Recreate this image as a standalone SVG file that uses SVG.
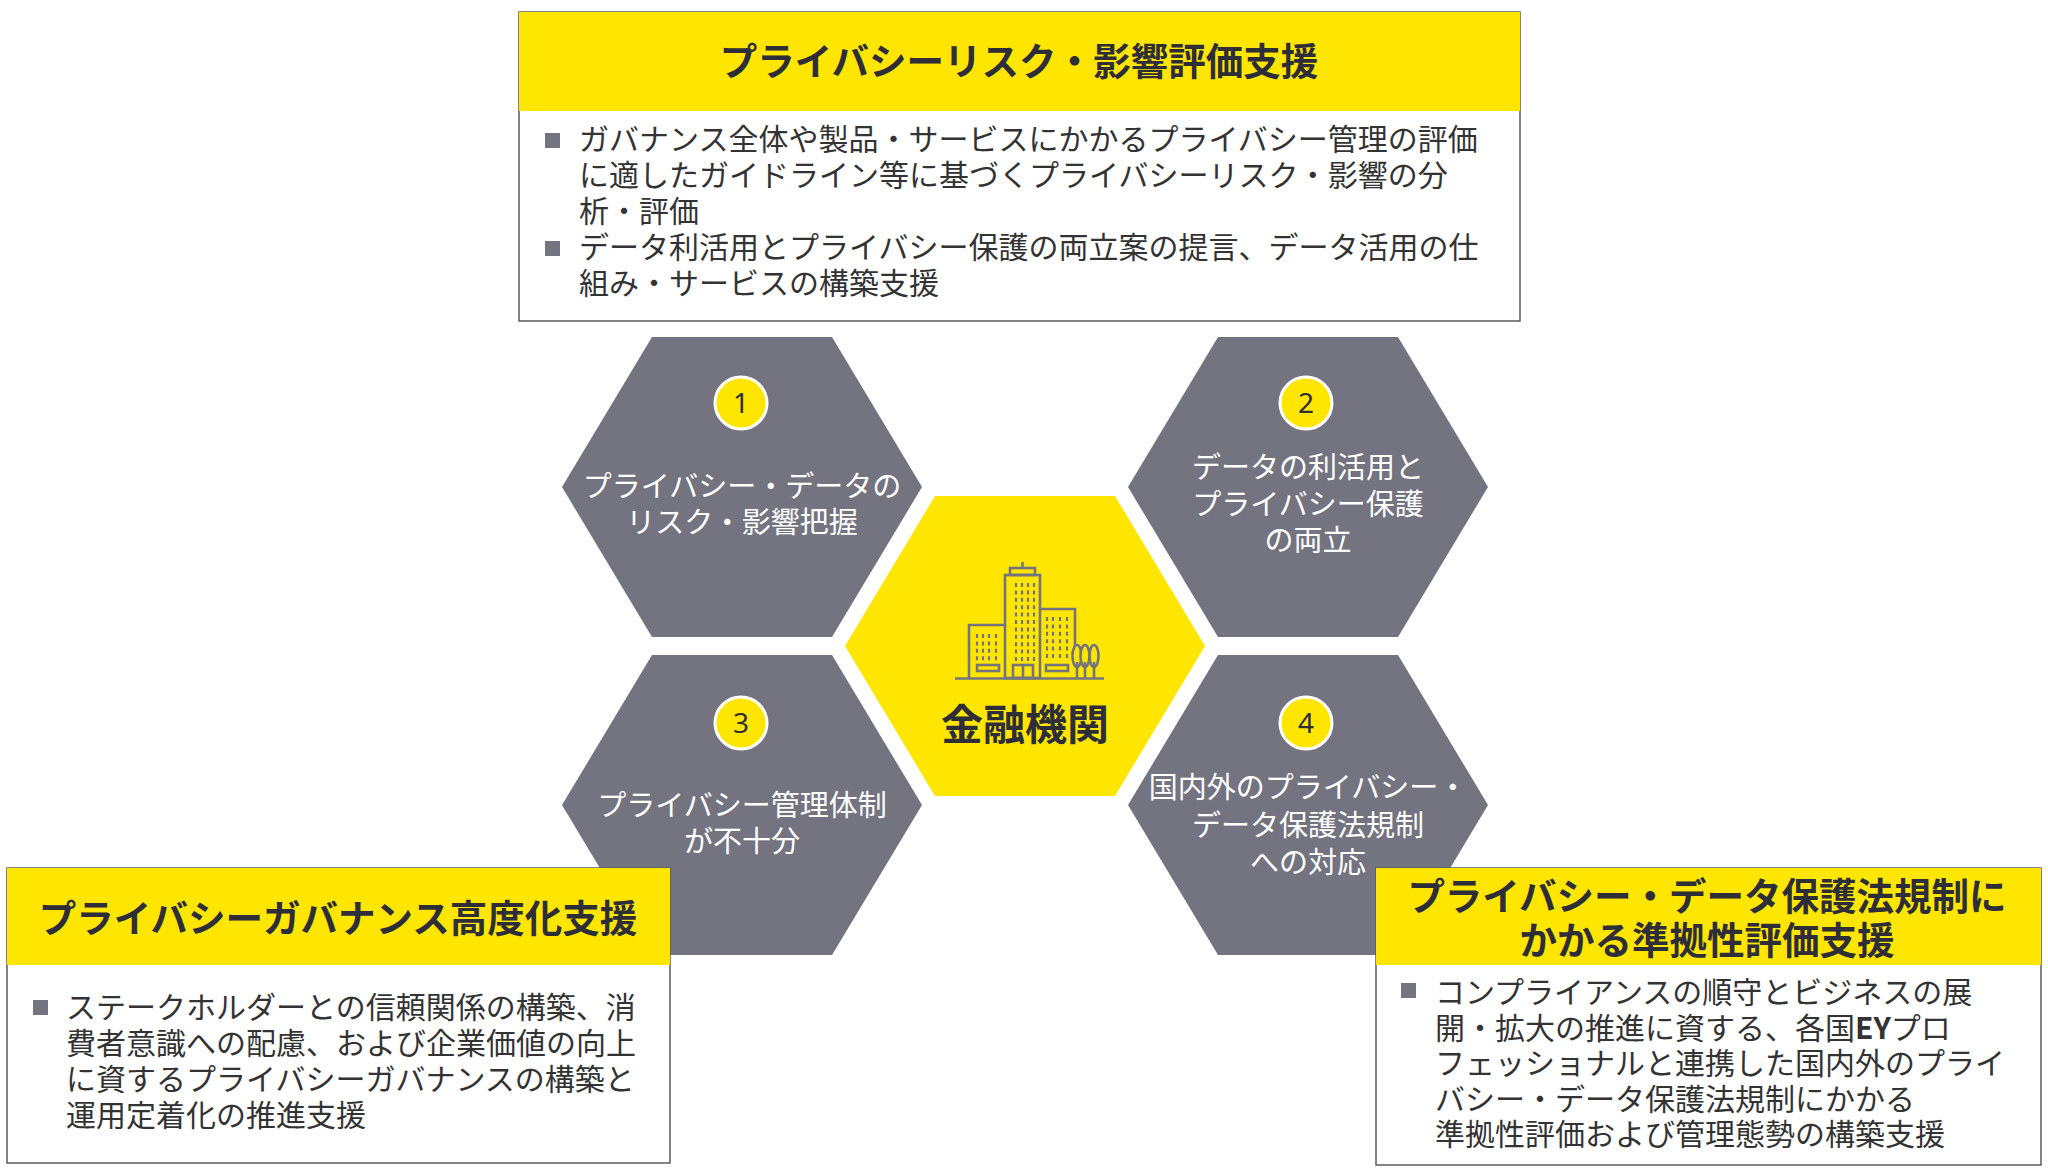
<svg xmlns="http://www.w3.org/2000/svg" xmlns:xlink="http://www.w3.org/1999/xlink" width="2048" height="1170" viewBox="0 0 2048 1170">
<defs>
<style>
.jp{font-family:"Noto Sans CJK JP","Noto Sans CJK SC",sans-serif}
.hdr{font-family:"Noto Sans CJK JP",sans-serif;font-weight:700;font-size:37.5px;fill:#2e2e38;text-anchor:middle}
.body{font-family:"Noto Sans CJK JP",sans-serif;font-size:30px;fill:#333333}
.hext{font-family:"Noto Sans CJK JP",sans-serif;font-size:29px;fill:#ffffff;text-anchor:middle}
.num{font-family:"Noto Sans","Noto Sans CJK JP",sans-serif;font-size:28px;fill:#2e2e38;text-anchor:middle}
.ybar{fill:#ffe600}
.frame{fill:#ffffff;stroke:#5a5a62;stroke-width:1.5}
.bul{fill:#747480}
.hexg{fill:#747480}
.badge{fill:#ffe600;stroke:#ffffff;stroke-width:3}
.ic{fill:none;stroke:#747480;stroke-width:2.6}
.win{fill:none;stroke:#747480;stroke-width:2.2;stroke-dasharray:4 3.4}
</style>
<polygon id="hex" points="-180,0 -90,-150 90,-150 180,0 90,150 -90,150"/>
</defs>
<rect width="2048" height="1170" fill="#ffffff"/>

<g id="hex1">
<use xlink:href="#hex" href="#hex" class="hexg" transform="translate(742,487)"/>
<circle class="badge" cx="741" cy="403" r="26"/>
<text class="num" x="741" y="413">1</text>
<text class="hext" x="742" y="497">プライバシー・データの</text>
<text class="hext" x="742" y="533">リスク・影響把握</text>
</g>

<g id="hex2">
<use xlink:href="#hex" href="#hex" class="hexg" transform="translate(1308,487)"/>
<circle class="badge" cx="1306" cy="403" r="26"/>
<text class="num" x="1306" y="413">2</text>
<text class="hext" x="1308" y="478">データの利活用と</text>
<text class="hext" x="1308" y="515">プライバシー保護</text>
<text class="hext" x="1308" y="551">の両立</text>
</g>

<g id="hex3">
<use xlink:href="#hex" href="#hex" class="hexg" transform="translate(742,805)"/>
<circle class="badge" cx="741" cy="723" r="26"/>
<text class="num" x="741" y="733">3</text>
<text class="hext" x="742" y="816">プライバシー管理体制</text>
<text class="hext" x="742" y="852">が不十分</text>
</g>

<g id="hex4">
<use xlink:href="#hex" href="#hex" class="hexg" transform="translate(1308,805)"/>
<circle class="badge" cx="1306" cy="723" r="26"/>
<text class="num" x="1306" y="733">4</text>
<text class="hext" x="1308" y="798">国内外のプライバシー・</text>
<text class="hext" x="1308" y="836">データ保護法規制</text>
<text class="hext" x="1308" y="873">への対応</text>
</g>

<g id="center">
<use xlink:href="#hex" href="#hex" class="ybar" transform="translate(1025,646)"/>
<g id="building-icon">
<line class="ic" x1="1022.5" y1="562" x2="1022.5" y2="568"/>
<rect class="ic" x="1010" y="568" width="25" height="7"/>
<rect class="ic" x="1005" y="575" width="35" height="103"/>
<polyline class="ic" points="1005,625 969,625 969,678"/>
<polyline class="ic" points="1040,609 1075,609 1075,650"/>
<line class="ic" x1="955" y1="678.5" x2="1104" y2="678.5"/>
<line class="win" x1="1016" y1="583" x2="1016" y2="661"/>
<line class="win" x1="1022" y1="583" x2="1022" y2="661"/>
<line class="win" x1="1028" y1="583" x2="1028" y2="661"/>
<line class="win" x1="1034" y1="583" x2="1034" y2="661"/>
<line class="win" x1="977" y1="634" x2="977" y2="661"/>
<line class="win" x1="983" y1="634" x2="983" y2="661"/>
<line class="win" x1="989" y1="634" x2="989" y2="661"/>
<line class="win" x1="996" y1="634" x2="996" y2="661"/>
<line class="win" x1="1047" y1="617" x2="1047" y2="658"/>
<line class="win" x1="1053" y1="617" x2="1053" y2="658"/>
<line class="win" x1="1060" y1="617" x2="1060" y2="658"/>
<line class="win" x1="1067" y1="617" x2="1067" y2="658"/>
<rect class="ic" x="977" y="665" width="22" height="6"/>
<rect class="ic" x="1046" y="665" width="22" height="6"/>
<rect class="ic" x="1013" y="665" width="20" height="13"/>
<line class="ic" x1="1023" y1="665" x2="1023" y2="678"/>
<ellipse class="ic" cx="1077" cy="656" rx="4.5" ry="11" fill="#ffe600" style="fill:#ffe600"/>
<ellipse class="ic" cx="1085" cy="656" rx="4.5" ry="11" style="fill:#ffe600"/>
<ellipse class="ic" cx="1094" cy="656" rx="4.5" ry="11" style="fill:#ffe600"/>
<line class="ic" x1="1077" y1="662" x2="1077" y2="678"/>
<line class="ic" x1="1085" y1="662" x2="1085" y2="678"/>
<line class="ic" x1="1094" y1="662" x2="1094" y2="678"/>
</g>
<text class="hdr" x="1025" y="740" style="font-size:42px">金融機関</text>
</g>

<g id="box-top">
<rect class="frame" x="519" y="12" width="1001" height="309"/>
<rect class="ybar" x="519" y="12" width="1001" height="99"/>
<text class="hdr" x="1019" y="75">プライバシーリスク・影響評価支援</text>
<rect class="bul" x="545" y="133" width="15" height="15"/>
<rect class="bul" x="545" y="241" width="15" height="15"/>
<text class="body" x="579" y="150">ガバナンス全体や製品・サービスにかかるプライバシー管理の評価</text>
<text class="body" x="579" y="186">に適したガイドライン等に基づくプライバシーリスク・影響の分</text>
<text class="body" x="579" y="222">析・評価</text>
<text class="body" x="579" y="258">データ利活用とプライバシー保護の両立案の提言、データ活用の仕</text>
<text class="body" x="579" y="294">組み・サービスの構築支援</text>
</g>

<g id="box-left">
<rect class="frame" x="7" y="868" width="663" height="295"/>
<rect class="ybar" x="7" y="868" width="663" height="97"/>
<text class="hdr" x="338" y="932">プライバシーガバナンス高度化支援</text>
<rect class="bul" x="33" y="1000" width="15" height="15"/>
<text class="body" x="66" y="1018">ステークホルダーとの信頼関係の構築、消</text>
<text class="body" x="66" y="1054">費者意識への配慮、および企業価値の向上</text>
<text class="body" x="66" y="1090">に資するプライバシーガバナンスの構築と</text>
<text class="body" x="66" y="1126">運用定着化の推進支援</text>
</g>

<g id="box-right">
<rect class="frame" x="1376" y="868" width="665" height="297"/>
<rect class="ybar" x="1376" y="868" width="665" height="97"/>
<text class="hdr" x="1707" y="910">プライバシー・データ保護法規制に</text>
<text class="hdr" x="1707" y="954">かかる準拠性評価支援</text>
<rect class="bul" x="1401" y="983" width="15" height="15"/>
<text class="body" x="1435" y="1003">コンプライアンスの順守とビジネスの展</text>
<text class="body" x="1435" y="1039">開・拡大の推進に資する、各国<tspan font-weight="700">EY</tspan>プロ</text>
<text class="body" x="1435" y="1074">フェッショナルと連携した国内外のプライ</text>
<text class="body" x="1435" y="1110">バシー・データ保護法規制にかかる</text>
<text class="body" x="1435" y="1145">準拠性評価および管理態勢の構築支援</text>
</g>

<g id="connectors"/>
</svg>
